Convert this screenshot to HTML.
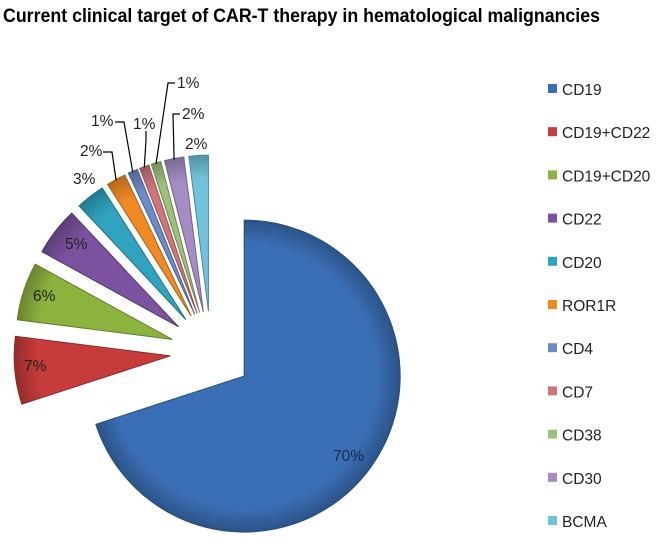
<!DOCTYPE html>
<html><head><meta charset="utf-8"><style>
body{margin:0;background:#fff;}
svg{display:block;font-family:"Liberation Sans",Calibri,sans-serif;}
</style></head><body>
<svg id="chart" width="661" height="544" viewBox="0 0 661 544">
<defs></defs>
<text x="3" y="22" font-size="19" font-weight="bold" fill="#000" textLength="597" lengthAdjust="spacingAndGlyphs">Current clinical target of CAR-T therapy in hematological malignancies</text>
<g id="slices"></g>
<g id="labels"></g>
<g id="legend"></g>
</svg>
<script>
const categories = ["CD19","CD19+CD22","CD19+CD20","CD22","CD20","ROR1R","CD4","CD7","CD38","CD30","BCMA"];
const values = [70,7,6,5,3,2,1,1,1,2,2];
const valueLabels = ["70%","7%","6%","5%","3%","2%","1%","1%","1%","2%","2%"];
const colors = ["#3a6fb5","#c63c3a","#8db33f","#7a52a0","#2fa3c0","#f08a22","#6a8cc8","#d0757a","#9dc07a","#a48cc4","#6fc3da"];

const svg = document.getElementById('chart');
const NS = 'http://www.w3.org/2000/svg';
const cx = 211, cy = 352, R = 156, explode = 41;
const total = values.reduce((a,b)=>a+b,0);
const defs = svg.querySelector('defs');
function pt(a, r, ox, oy){ return [ox + r*Math.sin(a), oy - r*Math.cos(a)]; }
function shade(hex, f){
  const n=parseInt(hex.slice(1),16); let r=n>>16,g=(n>>8)&255,b=n&255;
  const m=v=>Math.max(0,Math.min(255,Math.round(f>1? v+(255-v)*(f-1) : v*f)));
  return 'rgb('+m(r)+','+m(g)+','+m(b)+')';
}
// label anchor positions (layout)
const labelPos = [[333,461],[24,371],[33,301],[65,249],[73,184],[80,156],[91,126],[133,129],[177,88],[182,119],[185,149]];
// leader elbow points (layout): start, elbow
const leaders = {5:[[103,152],[112,152]],6:[[115,122],[124,122]],7:[[146,131],[146,140]],8:[[175,83],[168,83]],9:[[180,114],[173,114]]};
let acc = 0;
const gS = document.getElementById('slices'), gL = document.getElementById('labels'), gLg = document.getElementById('legend');
values.forEach((v,i)=>{
  const a0 = acc/total*2*Math.PI, a1 = (acc+v)/total*2*Math.PI, am=(a0+a1)/2;
  acc += v;
  const ox = cx + explode*Math.sin(am), oy = cy - explode*Math.cos(am);
  const p0 = pt(a0,R,ox,oy), p1 = pt(a1,R,ox,oy);
  const large = (a1-a0) > Math.PI ? 1 : 0;
  const gid = 'g'+i;
  const lg = document.createElementNS(NS,'radialGradient');
  lg.setAttribute('id',gid); lg.setAttribute('cx',ox); lg.setAttribute('cy',oy); lg.setAttribute('r',R);
  lg.setAttribute('gradientUnits','userSpaceOnUse');
  lg.innerHTML = '<stop offset="0" stop-color="'+colors[i]+'"/><stop offset="0.85" stop-color="'+colors[i]+'"/><stop offset="1" stop-color="'+shade(colors[i],0.75)+'"/>';
  defs.appendChild(lg);
  const p = document.createElementNS(NS,'path');
  p.setAttribute('d','M'+ox+','+oy+' L'+p0[0]+','+p0[1]+' A'+R+','+R+' 0 '+large+' 1 '+p1[0]+','+p1[1]+' Z');
  p.setAttribute('fill','url(#'+gid+')');
  p.setAttribute('stroke',shade(colors[i],0.7));
  p.setAttribute('stroke-width','1');
  
  
  gS.appendChild(p);
  const lp = labelPos[i];
  const t = document.createElementNS(NS,'text');
  t.setAttribute('x',lp[0]); t.setAttribute('y',lp[1]);
  t.setAttribute('font-size','15.5'); t.setAttribute('fill', i===0?'#1a2a4a':'#222');
  t.textContent = valueLabels[i];
  
  
  gL.appendChild(t);
  if (leaders[i]) {
    const outer = pt(am, R, ox, oy);
    const s = leaders[i][0], e = leaders[i][1];
    const l = document.createElementNS(NS,'polyline');
    l.setAttribute('points', s[0]+','+s[1]+' '+e[0]+','+e[1]+' '+outer[0]+','+(outer[1]+1));
    l.setAttribute('fill','none'); l.setAttribute('stroke','#000'); l.setAttribute('stroke-width','1.2');
    
    
    gL.appendChild(l);
  }
  const ly = 89 + i*43.2;
  const sq = document.createElementNS(NS,'rect');
  sq.setAttribute('x',548); sq.setAttribute('y',ly-5); sq.setAttribute('width',9); sq.setAttribute('height',9);
  sq.setAttribute('fill',colors[i]);
  
  
  gLg.appendChild(sq);
  const lt = document.createElementNS(NS,'text');
  lt.setAttribute('x',562); lt.setAttribute('y',ly+6);
  lt.setAttribute('font-size','15.5'); lt.setAttribute('fill','#222');
  lt.textContent = categories[i];
  
  
  gLg.appendChild(lt);
});
</script>
</body></html>
